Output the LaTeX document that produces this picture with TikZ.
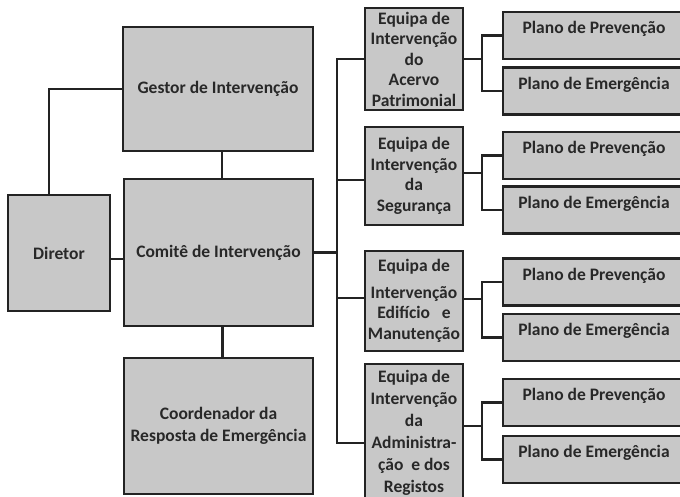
\documentclass[tikz,border=0pt]{standalone}
\usepackage{fontspec}
\setmainfont{Carlito}
\definecolor{boxfill}{RGB}{200,200,200}
\definecolor{edge}{RGB}{35,35,35}
\definecolor{txt}{RGB}{40,40,40}
\begin{document}
\begin{tikzpicture}[x=1pt,y=-1pt,
  box/.style={draw=edge,line width=2.6pt,fill=boxfill,rectangle,inner sep=0pt,
     text=txt,font=\fontsize{17.5}{20.5}\selectfont\bfseries,align=center},
  plano/.style={box,minimum width=182pt,minimum height=47pt},
  conn/.style={draw=edge,line width=2.8pt}]
\useasboundingbox (0,0) rectangle (680,496);
\clip (0,0) rectangle (680,496);
\fill[white] (0,0) rectangle (680,496);
% left column
\node[box,minimum width=190pt,minimum height=124pt] (g) at (218,89) {Gestor de Intervenção};
\node[box,minimum width=189pt,minimum height=147pt] (c) at (218.5,252.5) {Comitê de Intervenção};
\node[box,minimum width=102pt,minimum height=116pt] (d) at (59,253) {Diretor};
\node[box,minimum width=189pt,minimum height=136pt,font=\fontsize{17.5}{22}\selectfont\bfseries] (co) at (218.5,426) {Coordenador da\\Resposta de Emergência};
% equipas
\node[box,minimum width=98pt,minimum height=102pt] (e1) at (414,59) {Equipa de\\Intervenção\\do\\Acervo\\Patrimonial};
\node[box,minimum width=98pt,minimum height=98pt] (e2) at (414,176) {Equipa de\\Intervenção\\da\\Segurança};
\node[box,minimum width=98pt,minimum height=100pt] (e3) at (414,301) {Equipa de\\[6pt]Intervenção\\Edifício~~ e\\Manutenção};
\node[box,minimum width=98pt,minimum height=138pt,font=\fontsize{17.5}{22}\selectfont\bfseries] (e4) at (414,433) {Equipa de\\Intervenção\\da\\Administra-\\ção~ e dos\\Registos};
% planos
\node[plano] (p1) at (594,35.5) {};
\node[plano] (p2) at (594,91) {};
\node[plano] (p3) at (594,155.5) {};
\node[plano] (p4) at (594,210) {};
\node[plano] (p5) at (594,282) {};
\node[plano] (p6) at (594,337.5) {};
\node[plano] (p7) at (594,402.5) {};
\node[plano] (p8) at (594,459.5) {};
\foreach \p/\t in {p1/Prevenção,p2/Emergência,p3/Prevenção,p4/Emergência,p5/Prevenção,p6/Emergência,p7/Prevenção,p8/Emergência}{
  \node[text=txt,font=\fontsize{17.5}{20}\selectfont\bfseries,anchor=center] (\p t) at ([yshift=6.5pt]\p.center -| 594,0) {Plano de \t};
}
% connectors left
\draw[conn] (g.west) -| ([xshift=-10pt]d.north);
\draw[conn] ([xshift=4pt]g.south) -- ([xshift=4pt]g.south |- c.north);
\draw[conn] ([xshift=4pt]c.south) -- ([xshift=4pt]c.south |- co.north);
\draw[conn] ([yshift=-6pt]d.east) -- ([yshift=-6pt]d.east -| c.west);
% bus
\coordinate (bt) at (337,59);
\coordinate (bb) at (337,443);
\draw[conn,line cap=rect] (bt) -- (bb);
\draw[conn] (c.east) -- (c.east -| bt);
\draw[conn] (e1.west) -- (e1.west -| bt);
\draw[conn] ([yshift=-4pt]e2.west) -- ([yshift=-4pt]e2.west -| bt);
\draw[conn] ([yshift=3pt]e3.west) -- ([yshift=3pt]e3.west -| bt);
\draw[conn] (bb) -- (bb -| e4.west);
% branches
\coordinate (j1) at (482,59);
\coordinate (j2) at (482,173);
\coordinate (j3) at (482,299);
\coordinate (j4) at (482,426);
\draw[conn] (e1.east |- j1) -- (j1);
\draw[conn] (e2.east |- j2) -- (j2);
\draw[conn] (e3.east |- j3) -- (j3);
\draw[conn] (e4.east |- j4) -- (j4);
\draw[conn] (p1.west) -| (j1) |- (p2.west);
\draw[conn] (p3.west) -| (j2) |- (p4.west);
\draw[conn] (p5.west) -| (j3) |- (p6.west);
\draw[conn] (p7.west) -| (j4) |- (p8.west);
\end{tikzpicture}
\end{document}
